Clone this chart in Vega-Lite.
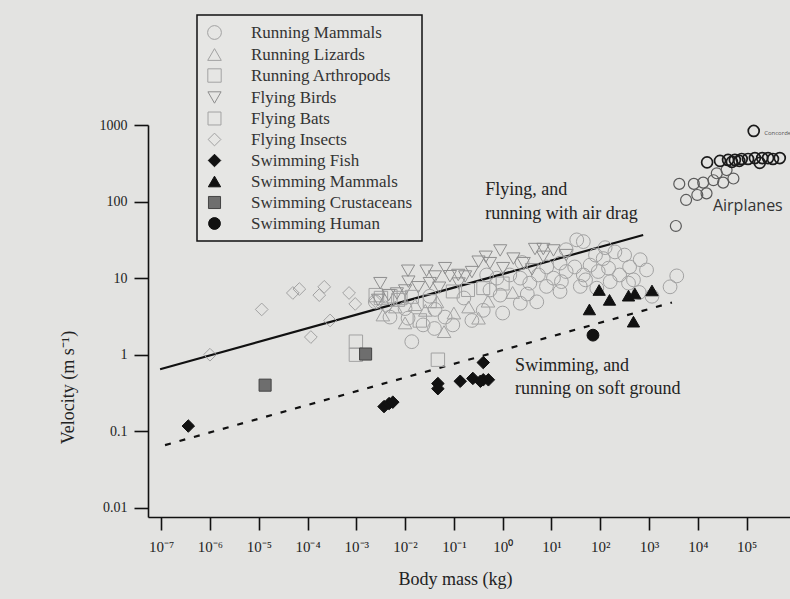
{
  "$schema": "https://vega.github.io/schema/vega-lite/v6.json",
  "width": 642,
  "height": 392,
  "autosize": {"type": "none"},
  "padding": {"left": 148, "top": 125, "right": 0, "bottom": 82},
  "background": "#e3e3e1",
  "config": {
    "view": {"stroke": null},
    "font": "Liberation Serif",
    "axis": {"grid": false, "domainColor": "#111", "domainWidth": 1.6, "tickColor": "#111", "tickWidth": 1.6, "labelFont": "Liberation Serif", "labelColor": "#222", "titleFont": "Liberation Serif", "titleColor": "#222", "titleFontWeight": "normal"},
    "legend": {"strokeColor": "#111", "strokeWidth": 1.5, "fillColor": "#e6e6e4", "padding": 9, "labelFont": "Liberation Serif", "labelFontSize": 17, "labelColor": "#333", "labelOffset": 28, "rowPadding": 3, "symbolStrokeWidth": 1, "labelLimit": 300}
  },
  "datasets": {
    "animals": [
      {"m": 0.0137, "v": 1.48, "g": "Running Mammals"},
      {"m": 0.00245, "v": 4.9, "g": "Running Mammals"},
      {"m": 0.0049, "v": 3.1, "g": "Running Mammals"},
      {"m": 0.0115, "v": 3.0, "g": "Running Mammals"},
      {"m": 0.0234, "v": 2.45, "g": "Running Mammals"},
      {"m": 0.066, "v": 3.1, "g": "Running Mammals"},
      {"m": 0.095, "v": 2.45, "g": "Running Mammals"},
      {"m": 0.234, "v": 2.8, "g": "Running Mammals"},
      {"m": 0.041, "v": 3.9, "g": "Running Mammals"},
      {"m": 33, "v": 31.6, "g": "Running Mammals"},
      {"m": 45, "v": 30, "g": "Running Mammals"},
      {"m": 20, "v": 23.5, "g": "Running Mammals"},
      {"m": 15, "v": 15.7, "g": "Running Mammals"},
      {"m": 30, "v": 14, "g": "Running Mammals"},
      {"m": 62, "v": 14.8, "g": "Running Mammals"},
      {"m": 91, "v": 12.2, "g": "Running Mammals"},
      {"m": 45, "v": 11, "g": "Running Mammals"},
      {"m": 20, "v": 12.2, "g": "Running Mammals"},
      {"m": 11, "v": 10, "g": "Running Mammals"},
      {"m": 5.4, "v": 11, "g": "Running Mammals"},
      {"m": 3.6, "v": 8.6, "g": "Running Mammals"},
      {"m": 7.9, "v": 7.8, "g": "Running Mammals"},
      {"m": 2.3, "v": 10, "g": "Running Mammals"},
      {"m": 1.4, "v": 11, "g": "Running Mammals"},
      {"m": 0.76, "v": 10, "g": "Running Mammals"},
      {"m": 0.47, "v": 11, "g": "Running Mammals"},
      {"m": 0.55, "v": 7.0, "g": "Running Mammals"},
      {"m": 0.89, "v": 6.0, "g": "Running Mammals"},
      {"m": 2.3, "v": 4.7, "g": "Running Mammals"},
      {"m": 5.0, "v": 4.9, "g": "Running Mammals"},
      {"m": 15, "v": 6.7, "g": "Running Mammals"},
      {"m": 39, "v": 7.8, "g": "Running Mammals"},
      {"m": 85, "v": 7.4, "g": "Running Mammals"},
      {"m": 148, "v": 13.5, "g": "Running Mammals"},
      {"m": 115, "v": 18, "g": "Running Mammals"},
      {"m": 890, "v": 12.8, "g": "Running Mammals"},
      {"m": 660, "v": 17.4, "g": "Running Mammals"},
      {"m": 480, "v": 9.5, "g": "Running Mammals"},
      {"m": 380, "v": 8.6, "g": "Running Mammals"},
      {"m": 2700, "v": 7.7, "g": "Running Mammals"},
      {"m": 1150, "v": 5.8, "g": "Running Mammals"},
      {"m": 3700, "v": 10.7, "g": "Running Mammals"},
      {"m": 200, "v": 22, "g": "Running Mammals"},
      {"m": 316, "v": 20, "g": "Running Mammals"},
      {"m": 126, "v": 25, "g": "Running Mammals"},
      {"m": 80, "v": 20, "g": "Running Mammals"},
      {"m": 400, "v": 14, "g": "Running Mammals"},
      {"m": 250, "v": 11, "g": "Running Mammals"},
      {"m": 2.5, "v": 16, "g": "Running Mammals"},
      {"m": 8, "v": 14, "g": "Running Mammals"},
      {"m": 16, "v": 9, "g": "Running Mammals"},
      {"m": 0.16, "v": 5.5, "g": "Running Mammals"},
      {"m": 0.032, "v": 5.8, "g": "Running Mammals"},
      {"m": 0.4, "v": 3.8, "g": "Running Mammals"},
      {"m": 1.0, "v": 3.5, "g": "Running Mammals"},
      {"m": 0.01, "v": 4.0, "g": "Running Mammals"},
      {"m": 630, "v": 6.5, "g": "Running Mammals"},
      {"m": 3.2, "v": 6.2, "g": "Running Mammals"},
      {"m": 50, "v": 9.5, "g": "Running Mammals"},
      {"m": 160, "v": 9, "g": "Running Mammals"},
      {"m": 0.04, "v": 2.2, "g": "Running Mammals"},
      {"m": 0.016, "v": 4.5, "g": "Running Lizards"},
      {"m": 0.045, "v": 4.9, "g": "Running Lizards"},
      {"m": 0.026, "v": 3.8, "g": "Running Lizards"},
      {"m": 0.0063, "v": 4.2, "g": "Running Lizards"},
      {"m": 0.1, "v": 3.5, "g": "Running Lizards"},
      {"m": 0.2, "v": 4.2, "g": "Running Lizards"},
      {"m": 0.0035, "v": 3.3, "g": "Running Lizards"},
      {"m": 0.063, "v": 2.0, "g": "Running Lizards"},
      {"m": 0.5, "v": 5.0, "g": "Running Lizards"},
      {"m": 0.01, "v": 2.6, "g": "Running Lizards"},
      {"m": 1.6, "v": 6.5, "g": "Running Lizards"},
      {"m": 0.32, "v": 3.0, "g": "Running Lizards"},
      {"m": 0.00098, "v": 1.48, "g": "Running Arthropods"},
      {"m": 0.00098, "v": 1.0, "g": "Running Arthropods"},
      {"m": 0.047, "v": 0.86, "g": "Running Arthropods"},
      {"m": 0.0032, "v": 5.5, "g": "Running Arthropods"},
      {"m": 0.005, "v": 5.8, "g": "Running Arthropods"},
      {"m": 0.008, "v": 5.5, "g": "Running Arthropods"},
      {"m": 0.02, "v": 2.8, "g": "Running Arthropods"},
      {"m": 0.0025, "v": 6.0, "g": "Running Arthropods"},
      {"m": 0.0031, "v": 8.6, "g": "Flying Birds"},
      {"m": 0.0115, "v": 12.5, "g": "Flying Birds"},
      {"m": 0.0275, "v": 12.5, "g": "Flying Birds"},
      {"m": 0.066, "v": 13.5, "g": "Flying Birds"},
      {"m": 0.32, "v": 16.4, "g": "Flying Birds"},
      {"m": 0.17, "v": 10.5, "g": "Flying Birds"},
      {"m": 0.083, "v": 10.6, "g": "Flying Birds"},
      {"m": 0.041, "v": 10.5, "g": "Flying Birds"},
      {"m": 0.0117, "v": 9.0, "g": "Flying Birds"},
      {"m": 0.0046, "v": 6.0, "g": "Flying Birds"},
      {"m": 0.0068, "v": 6.3, "g": "Flying Birds"},
      {"m": 0.01, "v": 6.9, "g": "Flying Birds"},
      {"m": 0.0186, "v": 7.6, "g": "Flying Birds"},
      {"m": 0.032, "v": 8.6, "g": "Flying Birds"},
      {"m": 0.123, "v": 11, "g": "Flying Birds"},
      {"m": 0.234, "v": 12, "g": "Flying Birds"},
      {"m": 0.89, "v": 23, "g": "Flying Birds"},
      {"m": 4.6, "v": 24, "g": "Flying Birds"},
      {"m": 6.8, "v": 24, "g": "Flying Birds"},
      {"m": 11, "v": 23, "g": "Flying Birds"},
      {"m": 1.66, "v": 18, "g": "Flying Birds"},
      {"m": 0.55, "v": 15.7, "g": "Flying Birds"},
      {"m": 1.02, "v": 13.5, "g": "Flying Birds"},
      {"m": 2.7, "v": 15.7, "g": "Flying Birds"},
      {"m": 6.8, "v": 19, "g": "Flying Birds"},
      {"m": 0.45, "v": 19, "g": "Flying Birds"},
      {"m": 0.05, "v": 7.5, "g": "Flying Birds"},
      {"m": 0.126, "v": 8.5, "g": "Flying Birds"},
      {"m": 20, "v": 20, "g": "Flying Birds"},
      {"m": 4, "v": 13, "g": "Flying Birds"},
      {"m": 0.0028, "v": 5.2, "g": "Flying Birds"},
      {"m": 0.095, "v": 6.7, "g": "Flying Bats"},
      {"m": 0.4, "v": 7.4, "g": "Flying Bats"},
      {"m": 0.0072, "v": 5.2, "g": "Flying Bats"},
      {"m": 0.0138, "v": 5.7, "g": "Flying Bats"},
      {"m": 0.195, "v": 7.0, "g": "Flying Bats"},
      {"m": 0.032, "v": 5.0, "g": "Flying Bats"},
      {"m": 1.0, "v": 8.5, "g": "Flying Bats"},
      {"m": 0.0000115, "v": 3.9, "g": "Flying Insects"},
      {"m": 0.00005, "v": 6.4, "g": "Flying Insects"},
      {"m": 0.000068, "v": 7.2, "g": "Flying Insects"},
      {"m": 0.000174, "v": 6.0, "g": "Flying Insects"},
      {"m": 0.00022, "v": 7.7, "g": "Flying Insects"},
      {"m": 0.00071, "v": 6.4, "g": "Flying Insects"},
      {"m": 0.00095, "v": 4.6, "g": "Flying Insects"},
      {"m": 0.000117, "v": 1.7, "g": "Flying Insects"},
      {"m": 0.000001, "v": 1.0, "g": "Flying Insects"},
      {"m": 0.00029, "v": 2.8, "g": "Flying Insects"},
      {"m": 0.00245, "v": 5.0, "g": "Flying Insects"},
      {"m": 0.004, "v": 4.2, "g": "Flying Insects"},
      {"m": 0.00000036, "v": 0.117, "g": "Swimming Fish"},
      {"m": 0.0037, "v": 0.21, "g": "Swimming Fish"},
      {"m": 0.0047, "v": 0.23, "g": "Swimming Fish"},
      {"m": 0.0056, "v": 0.24, "g": "Swimming Fish"},
      {"m": 0.047, "v": 0.42, "g": "Swimming Fish"},
      {"m": 0.047, "v": 0.36, "g": "Swimming Fish"},
      {"m": 0.135, "v": 0.45, "g": "Swimming Fish"},
      {"m": 0.245, "v": 0.49, "g": "Swimming Fish"},
      {"m": 0.4, "v": 0.79, "g": "Swimming Fish"},
      {"m": 0.4, "v": 0.47, "g": "Swimming Fish"},
      {"m": 0.51, "v": 0.47, "g": "Swimming Fish"},
      {"m": 0.35, "v": 0.45, "g": "Swimming Fish"},
      {"m": 95, "v": 7.0, "g": "Swimming Mammals"},
      {"m": 155, "v": 5.2, "g": "Swimming Mammals"},
      {"m": 380, "v": 5.9, "g": "Swimming Mammals"},
      {"m": 513, "v": 6.3, "g": "Swimming Mammals"},
      {"m": 1150, "v": 6.9, "g": "Swimming Mammals"},
      {"m": 60, "v": 3.9, "g": "Swimming Mammals"},
      {"m": 480, "v": 2.7, "g": "Swimming Mammals"},
      {"m": 0.0000135, "v": 0.40, "g": "Swimming Crustaceans"},
      {"m": 0.00155, "v": 1.02, "g": "Swimming Crustaceans"},
      {"m": 71, "v": 1.8, "g": "Swimming Human"}
    ],
    "planes": [
      {"m": 140000, "v": 837},
      {"m": 15500, "v": 325},
      {"m": 28500, "v": 340},
      {"m": 41700, "v": 350},
      {"m": 57500, "v": 350},
      {"m": 79400, "v": 360},
      {"m": 107000, "v": 360},
      {"m": 148000, "v": 370},
      {"m": 209000, "v": 370},
      {"m": 275000, "v": 370},
      {"m": 347000, "v": 360},
      {"m": 479000, "v": 370},
      {"m": 186000, "v": 320},
      {"m": 50000, "v": 330},
      {"m": 70800, "v": 340},
      {"m": 4170, "v": 170},
      {"m": 8300, "v": 170},
      {"m": 12900, "v": 177},
      {"m": 20900, "v": 190},
      {"m": 33100, "v": 177},
      {"m": 53700, "v": 200},
      {"m": 24500, "v": 234},
      {"m": 38900, "v": 258},
      {"m": 5750, "v": 105},
      {"m": 9770, "v": 122},
      {"m": 15100, "v": 128},
      {"m": 3550, "v": 48}
    ],
    "lines": [
      {"m": 0.000000095, "v": 0.645, "k": "air"},
      {"m": 759, "v": 36.6, "k": "air"},
      {"m": 0.00000012, "v": 0.066, "k": "soft"},
      {"m": 2950, "v": 4.8, "k": "soft"}
    ],
    "notes": [
      {"m": 0.44, "v": 141, "t": "Flying, and"},
      {"m": 0.44, "v": 69, "t": "running with air drag"},
      {"m": 1.8, "v": 0.71, "t": "Swimming, and"},
      {"m": 1.8, "v": 0.357, "t": "running on soft ground"}
    ],
    "notes2": [
      {"m": 20400, "v": 87, "t": "Airplanes", "s": "big"},
      {"m": 229000, "v": 794, "t": "Concorde", "s": "small"}
    ]
  },
  "layer": [
    {
      "data": {"name": "lines"},
      "transform": [{"filter": "datum.k === 'air'"}],
      "mark": {"type": "line", "color": "#111", "strokeWidth": 2.2},
      "encoding": {
        "x": {"field": "m", "type": "quantitative", "scale": {"type": "log", "domain": [5.37e-8, 776000], "nice": false}, "axis": {"values": [1e-7, 1e-6, 1e-5, 1e-4, 1e-3, 1e-2, 1e-1, 1, 10, 100, 1000, 10000, 100000], "labelExpr": "'10' + ['⁻⁷','⁻⁶','⁻⁵','⁻⁴','⁻³','⁻²','⁻¹','⁰','¹','²','³','⁴','⁵','⁶'][round(log(datum.value)/LN10)+7]", "labelFontSize": 15, "labelPadding": 9, "tickSize": 13, "title": "Body mass (kg)", "titleFontSize": 18, "titleX": 307, "titleY": 67, "titleBaseline": "alphabetic"}},
        "y": {"field": "v", "type": "quantitative", "scale": {"type": "log", "domain": [0.00759, 1000], "nice": false}, "axis": {"values": [0.01, 0.1, 1, 10, 100, 1000], "labelExpr": "'' + datum.value", "labelFontSize": 14, "labelPadding": 7, "tickSize": 14, "title": "Velocity (m s⁻¹)", "titleFontSize": 18, "titleAngle": -90, "titleX": -80, "titleY": 262, "titleBaseline": "middle"}}
      }
    },
    {
      "data": {"name": "lines"},
      "transform": [{"filter": "datum.k === 'soft'"}],
      "mark": {"type": "line", "color": "#111", "strokeWidth": 2.2, "strokeDash": [6, 9]},
      "encoding": {
        "x": {"field": "m", "type": "quantitative"},
        "y": {"field": "v", "type": "quantitative"}
      }
    },
    {
      "data": {"name": "animals"},
      "mark": {"type": "point", "opacity": 1, "strokeWidth": 1},
      "encoding": {
        "x": {"field": "m", "type": "quantitative"},
        "y": {"field": "v", "type": "quantitative"},
        "shape": {"field": "g", "type": "nominal", "scale": {"domain": ["Running Mammals", "Running Lizards", "Running Arthropods", "Flying Birds", "Flying Bats", "Flying Insects", "Swimming Fish", "Swimming Mammals", "Swimming Crustaceans", "Swimming Human"], "range": ["circle", "triangle-up", "square", "triangle-down", "square", "diamond", "diamond", "triangle-up", "square", "circle"]}, "legend": {"title": null, "orient": "none", "legendX": 49, "legendY": -110}},
        "stroke": {"field": "g", "type": "nominal", "scale": {"domain": ["Running Mammals", "Running Lizards", "Running Arthropods", "Flying Birds", "Flying Bats", "Flying Insects", "Swimming Fish", "Swimming Mammals", "Swimming Crustaceans", "Swimming Human"], "range": ["#a2a2a2", "#a2a2a2", "#a2a2a2", "#8e8e8e", "#a2a2a2", "#a2a2a2", "#111111", "#111111", "#444444", "#111111"]}, "legend": {"title": null, "orient": "none", "legendX": 49, "legendY": -110}},
        "fill": {"field": "g", "type": "nominal", "scale": {"domain": ["Running Mammals", "Running Lizards", "Running Arthropods", "Flying Birds", "Flying Bats", "Flying Insects", "Swimming Fish", "Swimming Mammals", "Swimming Crustaceans", "Swimming Human"], "range": ["transparent", "transparent", "transparent", "transparent", "transparent", "transparent", "#111111", "#111111", "#6e6e6e", "#111111"]}, "legend": {"title": null, "orient": "none", "legendX": 49, "legendY": -110}},
        "size": {"field": "g", "type": "nominal", "scale": {"domain": ["Running Mammals", "Running Lizards", "Running Arthropods", "Flying Birds", "Flying Bats", "Flying Insects", "Swimming Fish", "Swimming Mammals", "Swimming Crustaceans", "Swimming Human"], "range": [190, 140, 110, 150, 200, 110, 90, 130, 90, 160]}, "legend": {"title": null, "orient": "none", "legendX": 49, "legendY": -110}}
      }
    },
    {
      "data": {"name": "planes"},
      "transform": [{"filter": "datum.v < 300"}],
      "mark": {"type": "point", "shape": "circle", "opacity": 1, "filled": false, "stroke": "#5a5a5a", "strokeWidth": 1.2, "size": 120},
      "encoding": {
        "x": {"field": "m", "type": "quantitative"},
        "y": {"field": "v", "type": "quantitative"}
      }
    },
    {
      "data": {"name": "planes"},
      "transform": [{"filter": "datum.v >= 300"}],
      "mark": {"type": "point", "shape": "circle", "opacity": 1, "filled": false, "stroke": "#1a1a1a", "strokeWidth": 1.7, "size": 120},
      "encoding": {
        "x": {"field": "m", "type": "quantitative"},
        "y": {"field": "v", "type": "quantitative"}
      }
    },
    {
      "data": {"name": "notes"},
      "mark": {"type": "text", "font": "Liberation Serif", "fontSize": 18, "align": "left", "baseline": "middle", "color": "#222"},
      "encoding": {
        "x": {"field": "m", "type": "quantitative"},
        "y": {"field": "v", "type": "quantitative"},
        "text": {"field": "t"}
      }
    },
    {
      "data": {"name": "notes2"},
      "transform": [{"filter": "datum.s === 'big'"}],
      "mark": {"type": "text", "font": "Open Sans", "fontSize": 16, "align": "left", "baseline": "middle", "color": "#333"},
      "encoding": {
        "x": {"field": "m", "type": "quantitative"},
        "y": {"field": "v", "type": "quantitative"},
        "text": {"field": "t"}
      }
    },
    {
      "data": {"name": "notes2"},
      "transform": [{"filter": "datum.s === 'small'"}],
      "mark": {"type": "text", "font": "Open Sans", "fontSize": 6, "align": "left", "baseline": "middle", "color": "#555"},
      "encoding": {
        "x": {"field": "m", "type": "quantitative"},
        "y": {"field": "v", "type": "quantitative"},
        "text": {"field": "t"}
      }
    }
  ]
}
